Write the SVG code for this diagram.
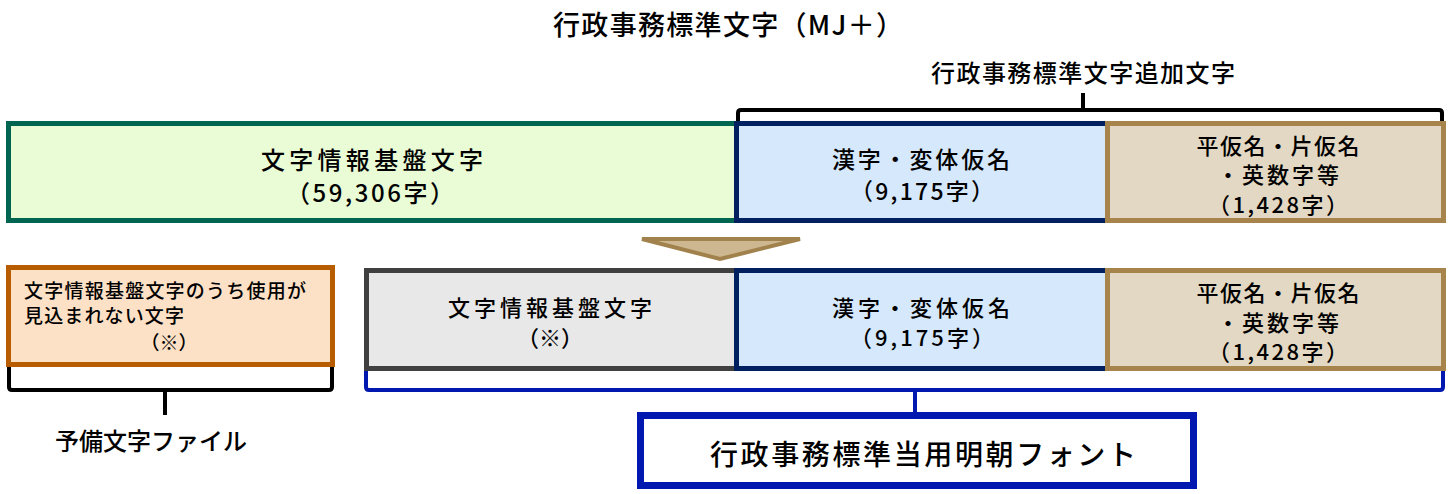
<svg xmlns="http://www.w3.org/2000/svg" width="1452" height="494" viewBox="0 0 1452 494">
<style>
text{font-family:"Noto Sans CJK JP","Noto Sans",sans-serif;font-weight:500;fill:#000;}
.c{text-anchor:middle;}
.box{stroke-width:5;}
.green{fill:#e9fcd5;stroke:#006651;}
.blue{fill:#d5e8fc;stroke:#002060;}
.tan{fill:#e3d8c3;stroke:#a6844c;}
.orange{fill:#fde1c6;stroke:#b85c00;}
.gray{fill:#e8e8e8;stroke:#404040;}
.brk{fill:none;stroke:#000;stroke-width:4;stroke-linejoin:round;}
.brkb{fill:none;stroke:#0018b0;stroke-width:4;stroke-linejoin:round;}
.f24{font-size:24px;}
.f23{font-size:23px;}
.f22{font-size:22px;}
.f19{font-size:19px;}
</style>
<g id="title"><text class="c" x="728" y="35" font-size="27" textLength="350" lengthAdjust="spacing">行政事務標準文字（MJ＋）</text></g>
<g id="added-label"><text class="c" x="1083" y="82" font-size="24" textLength="304" lengthAdjust="spacing">行政事務標準文字追加文字</text></g>

<g id="connectors">
<path class="brk" d="M738,126 V113 Q738,110 741,110 H1439 Q1442,110 1442,113 V127 M1083,110 V93"/>
<polygon points="642,239 800,239 720,259" fill="#cdb790" stroke="#a2824c" stroke-width="4" stroke-linejoin="miter"/>
<path class="brk" d="M9,367 V387 Q9,390 12,390 H329 Q332,390 332,387 V367 M165,390 V415"/>
<path class="brkb" d="M366,369 V387 Q366,390 369,390 H1440 Q1443,390 1443,387 V369 M915,390 V412"/>
</g>

<g id="top-green"><rect class="box green" x="8.5" y="123.5" width="728" height="97"/>
<text class="c f24" x="372" y="169" textLength="222" lengthAdjust="spacing">文字情報基盤文字</text>
<text class="c f24" x="370" y="202" textLength="168" lengthAdjust="spacing">（59,306字）</text></g>
<g id="top-blue"><rect class="box blue" x="736.5" y="123.5" width="371" height="97"/>
<text class="c f23" x="921" y="168" textLength="178" lengthAdjust="spacing">漢字・変体仮名</text>
<text class="c f23" x="922" y="200" textLength="144" lengthAdjust="spacing">（9,175字）</text></g>
<g id="top-tan"><rect class="box tan" x="1107.5" y="123.5" width="336" height="97"/>
<text class="c f22" x="1278" y="154" textLength="163" lengthAdjust="spacing">平仮名・片仮名</text>
<text class="c f22" x="1278" y="183" textLength="122" lengthAdjust="spacing">・英数字等</text>
<text class="c f22" x="1278" y="213" textLength="140" lengthAdjust="spacing">（1,428字）</text></g>

<g id="bottom-orange"><rect class="box orange" x="8.5" y="267.5" width="324" height="97"/>
<text class="f19" x="24" y="298" textLength="282" lengthAdjust="spacing">文字情報基盤文字のうち使用が</text>
<text class="f19" x="24" y="323" textLength="160" lengthAdjust="spacing">見込まれない文字</text>
<text class="c f19" x="169" y="350">（※）</text></g>
<g id="bottom-gray"><rect class="box gray" x="366.5" y="270.5" width="370" height="98"/>
<text class="c f22" x="550" y="316" textLength="204" lengthAdjust="spacing">文字情報基盤文字</text>
<text class="c f22" x="550" y="346">（※）</text></g>
<g id="bottom-blue"><rect class="box blue" x="736.5" y="270.5" width="371" height="98"/>
<text class="c f22" x="921" y="316" textLength="178" lengthAdjust="spacing">漢字・変体仮名</text>
<text class="c f22" x="922" y="346" textLength="144" lengthAdjust="spacing">（9,175字）</text></g>
<g id="bottom-tan"><rect class="box tan" x="1107.5" y="270.5" width="336" height="98"/>
<text class="c f22" x="1278" y="301" textLength="163" lengthAdjust="spacing">平仮名・片仮名</text>
<text class="c f22" x="1278" y="331" textLength="122" lengthAdjust="spacing">・英数字等</text>
<text class="c f22" x="1278" y="360" textLength="140" lengthAdjust="spacing">（1,428字）</text></g>

<g id="reserve-label"><text class="c" x="151" y="450" font-size="24">予備文字ファイル</text></g>
<g id="mincho-font"><rect x="640.5" y="415.5" width="553" height="70" fill="#fff" stroke="#0018b0" stroke-width="7"/>
<text class="c" x="923" y="465" font-size="28" textLength="426" lengthAdjust="spacing">行政事務標準当用明朝フォント</text></g>
</svg>
